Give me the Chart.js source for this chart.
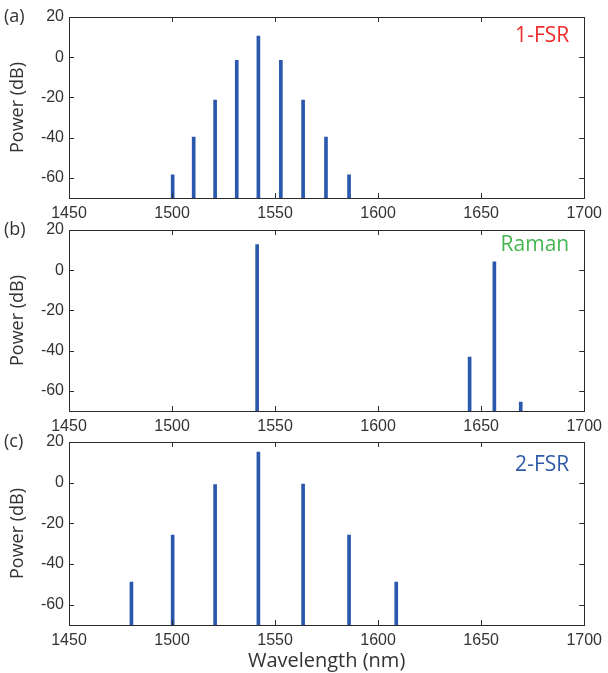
<!DOCTYPE html>
<html>
<head>
<meta charset="utf-8">
<script src="https://cdn.jsdelivr.net/npm/chart.js@4.4.0/dist/chart.umd.min.js"></script>
<style>
  body { margin: 0; background: #fff; }
  #wrap { position: relative; width: 608px; height: 673px; }
  .panel { position: absolute; left: 0; width: 608px; }
</style>
</head>
<body>
<div id="wrap">
  <div class="panel" style="top:0px;height:225px"><canvas id="chartA" width="608" height="225"></canvas></div>
  <div class="panel" style="top:213px;height:225px"><canvas id="chartB" width="608" height="225"></canvas></div>
  <div class="panel" style="top:425px;height:248px"><canvas id="chartC" width="608" height="248"></canvas></div>
</div>
<script>
// data
const fsr1Wavelength = [1500.3, 1510.5, 1520.9, 1531.4, 1541.9, 1552.8, 1563.6, 1574.7, 1585.9];
const fsr1Power = [-58.5, -39.7, -21.3, -1.6, 10.5, -1.6, -21.3, -39.7, -58.5];

const ramanWavelength = [1541.3, 1644.4, 1656.4, 1669.2];
const ramanPower = [12.8, -43.2, 4.2, -65.6];

const fsr2Wavelength = [1480.3, 1500.3, 1520.9, 1541.9, 1563.6, 1585.9, 1608.8];
const fsr2Power = [-48.9, -25.8, -1.0, 15.0, -0.7, -25.8, -48.9];

const xTicks = [1450, 1500, 1550, 1600, 1650, 1700];
const yTicks = [-60, -40, -20, 0, 20];
const yFloor = -70;
const yCeil = 20;

const stemColor = '#2a58ad';
const axisColor = '#2b2b2b';
const textColor = '#333333';

// frame + inward tick marks, panel letter and annotation
const framePlugin = {
    id: 'frame',
    afterDraw(chart, args, opts) {
        const ctx = chart.ctx;
        const a = chart.chartArea;
        const xs = chart.scales.x;
        const ys = chart.scales.y;
        const len = 5;
        ctx.save();
        ctx.strokeStyle = axisColor;
        ctx.lineWidth = 1;
        ctx.strokeRect(Math.round(a.left) + 0.5, Math.round(a.top) + 0.5,
            Math.round(a.right - a.left), Math.round(a.bottom - a.top));
        ctx.beginPath();
        xTicks.forEach(v => {
            const px = Math.round(xs.getPixelForValue(v)) + 0.5;
            ctx.moveTo(px, a.bottom); ctx.lineTo(px, a.bottom - len);
            ctx.moveTo(px, a.top); ctx.lineTo(px, a.top + len);
        });
        yTicks.forEach(v => {
            const py = Math.round(ys.getPixelForValue(v)) + 0.5;
            ctx.moveTo(a.left, py); ctx.lineTo(a.left + len, py);
            ctx.moveTo(a.right, py); ctx.lineTo(a.right - len, py);
        });
        ctx.stroke();

        ctx.fillStyle = textColor;
        ctx.font = '18px "Open Sans"';
        ctx.textAlign = 'left';
        ctx.textBaseline = 'middle';
        ctx.fillText(opts.letter, 4, a.top);

        ctx.fillStyle = opts.noteColor;
        ctx.font = '21px "Open Sans"';
        ctx.textAlign = 'right';
        ctx.fillText(opts.note, a.right - 15, a.top + opts.noteDy);
        ctx.restore();
    }
};

function makePanel(id, wl, power, opts) {
    const ctx = document.getElementById(id).getContext('2d');
    return new Chart(ctx, {
        type: 'bar',
        data: {
            datasets: [{
                data: wl.map((x, i) => ({ x: x, y: [yFloor, power[i]] })),
                backgroundColor: stemColor,
                borderWidth: 0,
                barThickness: 3
            }]
        },
        options: {
            responsive: false,
            animation: false,
            layout: { padding: { top: 17, left: 3, right: 22, bottom: 0 } },
            scales: {
                x: {
                    type: 'linear',
                    min: 1450,
                    max: 1700,
                    offset: false,
                    afterBuildTicks: s => { s.ticks = xTicks.map(v => ({ value: v })); },
                    afterFit: s => { s.height = opts.xHeight; },
                    grid: { display: false, drawTicks: false, offset: false },
                    border: { display: false },
                    ticks: {
                        padding: 6,
                        maxRotation: 0,
                        color: textColor,
                        callback: v => String(v),
                        font: { family: '"Liberation Sans"', size: 16 }
                    },
                    title: {
                        display: !!opts.xTitle,
                        text: opts.xTitle || '',
                        color: textColor,
                        padding: { top: 0, bottom: 0 },
                        font: { family: '"Open Sans"', size: 20 }
                    }
                },
                y: {
                    min: yFloor,
                    max: yCeil,
                    afterBuildTicks: s => { s.ticks = yTicks.map(v => ({ value: v })); },
                    afterFit: s => { s.width = 66; },
                    grid: { display: false, drawTicks: false },
                    border: { display: false },
                    ticks: {
                        padding: 5,
                        color: textColor,
                        font: { family: '"Liberation Sans"', size: 16 }
                    },
                    title: {
                        display: true,
                        text: 'Power (dB)',
                        color: textColor,
                        padding: { top: 4, bottom: 0 },
                        font: { family: '"Open Sans"', size: 18 }
                    }
                }
            },
            plugins: {
                legend: { display: false },
                tooltip: { enabled: false },
                frame: opts
            }
        },
        plugins: [framePlugin]
    });
}

makePanel('chartA', fsr1Wavelength, fsr1Power,
    { letter: '(a)', note: '1-FSR', noteColor: '#ee2b2b', noteDy: 19, xHeight: 27 });
makePanel('chartB', ramanWavelength, ramanPower,
    { letter: '(b)', note: 'Raman', noteColor: '#45b552', noteDy: 15, xHeight: 27 });
makePanel('chartC', fsr2Wavelength, fsr2Power,
    { letter: '(c)', note: '2-FSR', noteColor: '#2f5aa8', noteDy: 23, xHeight: 48, xTitle: 'Wavelength (nm)' });
</script>
</body>
</html>
